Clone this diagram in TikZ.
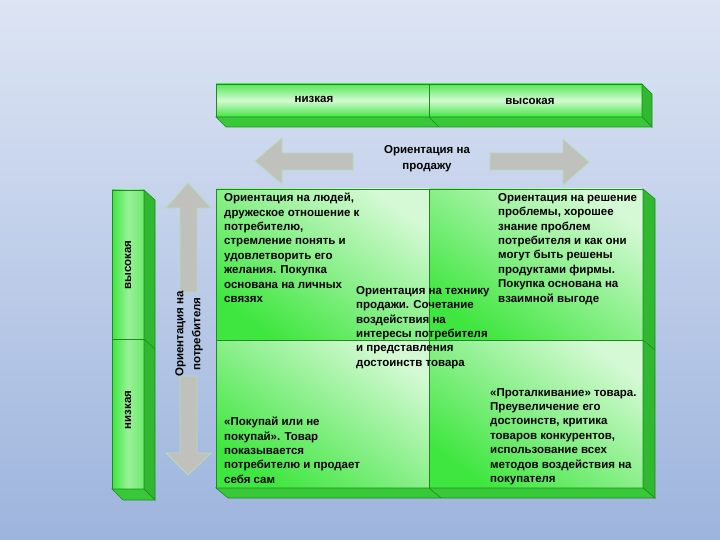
\documentclass[tikz,border=0pt]{standalone}
\usepackage{fontspec}
\setmainfont{Liberation Sans}
\definecolor{bgTop}{HTML}{DDE5F4}
\definecolor{bgBot}{HTML}{9DB4DD}
\definecolor{gBright}{HTML}{3FE63F}
\definecolor{gPale}{HTML}{D4F9D4}
\definecolor{gSide}{HTML}{30B830}
\definecolor{gBottom}{HTML}{38C838}
\definecolor{gEdge}{HTML}{1F8A1F}
\definecolor{arrowGray}{HTML}{C0C0BC}
\definecolor{arrowEdge}{HTML}{B5DDB5}
\begin{document}
\begin{tikzpicture}[x=1pt,y=-1pt,
  cell/.style={draw=gEdge, line width=0.6pt, top color=gPale, bottom color=gBright, shading angle=-35},
  hbar/.style={draw=gEdge, line width=0.6pt, top color=gBright!85!gPale, bottom color=gBright, middle color=gPale},
  vbar/.style={draw=gEdge, line width=0.6pt, left color=gBright, right color=gBright!70!gPale, middle color=gPale!60!gBright},
  sideface/.style={draw=gEdge, line width=0.6pt, fill=gSide},
  botface/.style={draw=gEdge, line width=0.6pt, fill=gBottom},
  bigarrow/.style={fill=arrowGray, draw=arrowEdge, line width=0.8pt},
  txt/.style={font=\bfseries\fontsize{11.5}{14.4}\selectfont, align=left, inner sep=0pt, anchor=north west, text=black},
  lbl/.style={font=\bfseries\fontsize{11.5}{14.4}\selectfont, inner sep=0pt, text=black}
]
\useasboundingbox (0,0) rectangle (720,540);
\shade[top color=bgTop, bottom color=bgBot] (0,0) rectangle (720,540);

% top bar
\shade[hbar] (216,84) rectangle (429,117);
\shade[hbar] (429,84) rectangle (642,117);
\draw[sideface] (642,84) -- (652,94) -- (652,127) -- (642,117) -- cycle;
\draw[botface] (216,117) -- (642,117) -- (652,127) -- (226,127) -- cycle;
\draw[gEdge, line width=0.6pt] (429,117) -- (439,127);
\node[lbl] (tlow) at (314,99) {низкая};
\node[lbl] (thigh) at (530,101) {высокая};

% left bar
\shade[vbar] (112,190) rectangle (144,339);
\shade[vbar] (112,339) rectangle (144,489);
\draw[sideface] (144,190) -- (155,200) -- (155,500) -- (144,489) -- cycle;
\draw[gEdge, line width=0.6pt] (144,339) -- (155,349);
\draw[botface] (112,489) -- (144,489) -- (155,500) -- (123,500) -- cycle;
\node[lbl, rotate=90] (lhigh) at (128,265) {высокая};
\node[lbl, rotate=90] (llow) at (128,410) {низкая};

% arrows
\draw[bigarrow] (255,161) -- (282,138) -- (282,153) -- (353,153) -- (353,170) -- (282,170) -- (282,184) -- cycle;
\draw[bigarrow] (490,153) -- (563,153) -- (563,139) -- (589,162) -- (563,185) -- (563,170) -- (490,170) -- cycle;
\draw[bigarrow] (188,183) -- (211,208) -- (197,208) -- (197,292) -- (180,292) -- (180,208) -- (166,208) -- cycle;
\draw[bigarrow] (180,376) -- (197,376) -- (197,453) -- (211,453) -- (188,475) -- (166,453) -- (180,453) -- cycle;
\node[lbl, align=center, font=\bfseries\fontsize{11.5}{16}\selectfont] (sell) at (427,159) {Ориентация на\\продажу};
\node[lbl, align=center, rotate=90, font=\bfseries\fontsize{11.5}{17}\selectfont] (cons) at (189,334) {Ориентация на\\потребителя};

% main grid
\shade[cell] (216,189) rectangle (429,340);
\shade[cell] (429,189) rectangle (643,340);
\shade[cell] (216,340) rectangle (429,488);
\shade[cell] (429,340) rectangle (643,488);
\draw[gEdge, line width=0.6pt] (216,189) rectangle (643,488);
\draw[gEdge, line width=0.6pt] (429,189) -- (429,488) (216,340) -- (643,340);
\draw[sideface] (643,189) -- (655,199) -- (655,498) -- (643,488) -- cycle;
\draw[gEdge, line width=0.6pt] (643,340) -- (655,350);
\draw[botface] (216,488) -- (643,488) -- (655,498) -- (228,498) -- cycle;
\draw[gEdge, line width=0.6pt] (429,488) -- (441,498);

\node[txt] (tl) at (224,193) {Ориентация на людей,\\дружеское отношение к\\потребителю,\\стремление понять и\\удовлетворить его\\желания. Покупка\\основана на личных\\связях};
\node[txt] (tr) at (498,193) {Ориентация на решение\\проблемы, хорошее\\знание проблем\\потребителя и как они\\могут быть решены\\продуктами фирмы.\\Покупка основана на\\взаимной выгоде};
\node[txt] (mid) at (356,286) {Ориентация на технику\\продажи. Сочетание\\воздействия на\\интересы потребителя\\и представления\\достоинств товара};
\node[txt] (bl) at (224,417) {«Покупай или не\\покупай». Товар\\показывается\\потребителю и продает\\себя сам};
\node[txt] (br) at (490,388) {«Проталкивание» товара.\\Преувеличение его\\достоинств, критика\\товаров конкурентов,\\использование всех\\методов воздействия на\\покупателя};
\end{tikzpicture}
\end{document}
